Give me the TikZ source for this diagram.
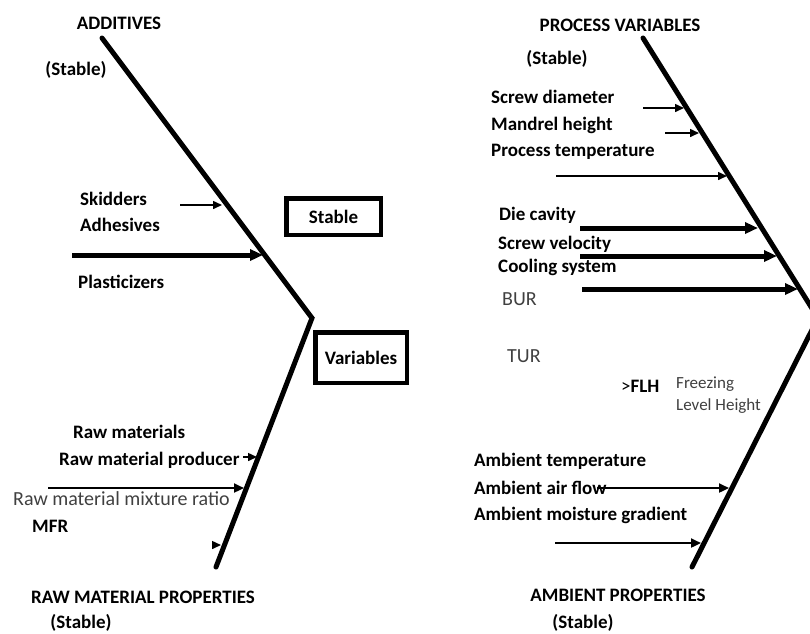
\documentclass[tikz,border=0pt]{standalone}
\usepackage{fontspec}
\setmainfont{Carlito}
\usepackage{tikz}
\usetikzlibrary{positioning}
\usetikzlibrary{arrows.meta}
\tikzset{bone/.style={line width=5pt,line cap=round},
  cause/.style={anchor=west,inner sep=0pt,text height=0.65em,text depth=0.05em,font=\bfseries\fontsize{19}{23}\selectfont},
  note/.style={cause,text=black!75,font=\fontsize{20}{24}\selectfont},
  small note/.style={note,font=\fontsize{17}{20}\selectfont},
  head/.style={inner sep=0pt,font=\bfseries\fontsize{19}{23}\selectfont},
  tag box/.style={draw,line width=4.5pt,inner sep=0pt,font=\bfseries\fontsize{19}{23}\selectfont},
  thin arrow/.style={-{Triangle[length=9pt,width=8pt]},line width=1.5pt},
  mid arrow/.style={-{Triangle[length=10pt,width=9pt]},line width=2.2pt},
  thick arrow/.style={-{Triangle[length=13pt,width=11pt]},line width=5pt},}

\begin{document}
\begin{tikzpicture}[x=1pt,y=-1pt]
    \useasboundingbox (0,0) rectangle (810,633);
    \clip (0,0) rectangle (810,633);

    % bones
    \coordinate (add) at (102,38);
    \coordinate (lv) at (312,318);
    \coordinate (raw) at (216,567);
    \coordinate (proc) at (643,38);
    \coordinate (rv) at (818,318);
    \coordinate (amb) at (692,567);
    \draw[bone] (add) -- (lv) -- (raw);
    \draw[bone] (proc) -- (rv) -- (amb);

    % headings
    \node[head] (additives) at (119,23) {ADDITIVES};
    \node[head] (addstab) at (76,70) {(Stable)};
    \node[head] (procvar) at (620,25) {PROCESS VARIABLES};
    \node[head] (procstab) at (557,59) {(Stable)};
    \node[head] (rawprop) at (143,597) {RAW MATERIAL PROPERTIES};
    \node[head] (rawstab) at (81,623) {(Stable)};
    \node[head] (ambprop) at (618,595) {AMBIENT PROPERTIES};
    \node[head] (ambstab) at (583,623) {(Stable)};

    \node[tag box,minimum width=94.5pt,minimum height=36.5pt] (stable) at (333.5,216.5) {Stable};
    \node[tag box,minimum width=91.5pt,minimum height=50.5pt] (variables) at (361,357.5) {Variables};

    % additives
    \node[cause] (skid) at (80,202) {Skidders};
    \node[cause] (adh) at (80,228) {Adhesives};
    \node[cause] (plast) at (78,285) {Plasticizers};

    % raw material properties
    \node[cause] (rawmat) at (73,435) {Raw materials};
    \node[cause] (rawprod) at (59,462) {Raw material producer};
    \node[note] (mix) at (13,502) {Raw material mixture ratio};
    \node[cause] (mfr) at (32,529) {MFR};

    % process variables
    \node[cause] (screwd) at (491,100) {Screw diameter};
    \node[cause] (mandrel) at (491,127) {Mandrel height};
    \node[cause] (ptemp) at (491,153) {Process temperature};
    \node[cause] (die) at (499,217) {Die cavity};
    \node[cause] (screwv) at (498,246) {Screw velocity};
    \node[cause] (cool) at (498,269) {Cooling system};
    \node[note] (bur) at (502,302) {BUR};
    \node[note] (tur) at (507,359) {TUR};
    \node[cause] (flh) at (621,389) {{\mdseries >}FLH};
    \node[small note] (frz) at (676,385) {Freezing};
    \node[small note] (lvl) at (676,407) {Level Height};

    % ambient properties
    \node[cause] (atemp) at (474,463) {Ambient temperature};
    \node[cause] (aflow) at (474,491) {Ambient air flow};
    \node[cause] (amoist) at (474,517) {Ambient moisture gradient};

    % arrow ends
    \coordinate (s0) at (180,205);  \coordinate (s1) at (222,205);
    \coordinate (p0) at (72,255);   \coordinate (p1) at (263,255);
    \coordinate (r0) at (243,457);  \coordinate (r1) at (257,457);
    \coordinate (m0) at (48,488);   \coordinate (m1) at (244,488);
    \coordinate (f0) at (212,545);  \coordinate (f1) at (221,545);
    \coordinate (d0) at (643,108);  \coordinate (d1) at (684,108);
    \coordinate (h0) at (665,133);  \coordinate (h1) at (699,133);
    \coordinate (t0) at (556,176);  \coordinate (t1) at (727,176);
    \coordinate (c0) at (580,228);  \coordinate (c1) at (758,228);
    \coordinate (v0) at (580,256);  \coordinate (v1) at (777,256);
    \coordinate (y0) at (582,289);  \coordinate (y1) at (798,289);
    \coordinate (a0) at (597,488);  \coordinate (a1) at (729,488);
    \coordinate (g0) at (555,543);  \coordinate (g1) at (701,543);

    \path[thin arrow]
    (s0) edge (s1)
    (r0) edge (r1)
    (f0) edge (f1)
    (d0) edge (d1)
    (h0) edge (h1)
    (t0) edge (t1);

    \path[mid arrow]
    (m0) edge (m1)
    (a0) edge (a1)
    (g0) edge (g1);

    \path[thick arrow]
    (p0) edge (p1)
    (c0) edge (c1)
    (v0) edge (v1)
    (y0) edge (y1);
\end{tikzpicture}
\end{document}
